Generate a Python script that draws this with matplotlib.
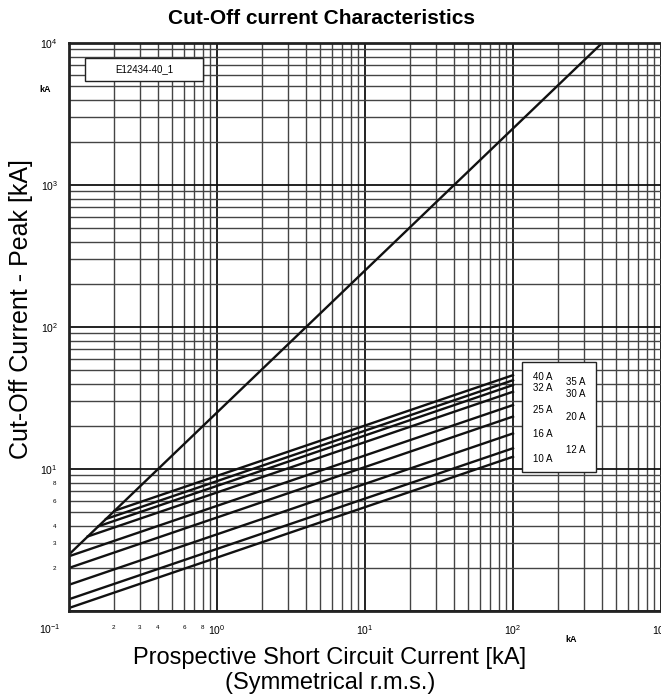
import matplotlib
matplotlib.use('Agg')
import matplotlib.pyplot as plt
from matplotlib.patches import Rectangle

plt.rcParams['font.family'] = ['Liberation Sans', 'DejaVu Sans']
plt.rcParams['mathtext.fontset'] = 'custom'
plt.rcParams['mathtext.rm'] = 'Liberation Sans'

# fuse ratings: each cut-off line goes from a start point to its value at 100 kA
ratings = ['10 A', '12 A', '16 A', '20 A', '25 A', '30 A', '32 A', '35 A', '40 A']
x_start = [0.1, 0.1, 0.1, 0.1, 0.1, 0.134, 0.158, 0.178, 0.203]
y_start = [1.05, 1.21, 1.53, 2.01, 2.43, 3.35, 3.95, 4.45, 5.08]
x_end = 100
y_end = [12.2, 14.0, 17.8, 23.4, 28.2, 35.0, 39.0, 42.2, 45.8]

# unlimited peak current line
peak_x = [0.1, 400]
peak_y = [2.5, 10000]

# rating labels in the box: left column / right column
left_col = ['10 A', '16 A', '25 A', '32 A', '40 A']
label_y = [11.8, 13.6, 17.6, 23.2, 26.1, 33.6, 37.2, 41.0, 44.5]

x_major = [0.1, 1, 10, 100, 1000]
x_major_lab = ['', r'$\mathregular{10^{0}}$', r'$\mathregular{10^{1}}$',
               r'$\mathregular{10^{2}}$', r'$\mathregular{10^{3}}$']
y_major = [1, 10, 100, 1000, 10000]
y_major_lab = ['', r'$\mathregular{10^{1}}$', r'$\mathregular{10^{2}}$',
               r'$\mathregular{10^{3}}$', r'$\mathregular{10^{4}}$']
minor_labeled = [2, 3, 4, 6, 8]

fig = plt.figure(figsize=(6.61, 7.0), dpi=100)
ax = fig.add_axes([69 / 661, 89 / 700, 592 / 661, 568 / 700])
ax.set_xscale('log')
ax.set_yscale('log')
ax.set_xlim(0.1, 1000)
ax.set_ylim(1, 10000)

# full log grid (minor ticks everywhere, only the first decade labelled)
xminor, xminor_lab = [], []
for e in range(-1, 3):
    for m in range(2, 10):
        xminor.append(m * 10.0 ** e)
        xminor_lab.append(str(m) if e == -1 and m in minor_labeled else '')
yminor, yminor_lab = [], []
for e in range(0, 4):
    for m in range(2, 10):
        yminor.append(m * 10.0 ** e)
        yminor_lab.append(str(m) if e == 0 and m in minor_labeled else '')

ax.set_xticks(x_major, x_major_lab)
ax.set_xticks(xminor, xminor_lab, minor=True)
ax.set_yticks(y_major, y_major_lab)
ax.set_yticks(yminor, yminor_lab, minor=True)
ax.tick_params(which='both', length=0)
ax.tick_params(axis='x', which='major', labelsize=7.5, pad=9)
ax.tick_params(axis='x', which='minor', labelsize=4.5, pad=10)
ax.tick_params(axis='y', which='major', labelsize=7.5, pad=8)
ax.tick_params(axis='y', which='minor', labelsize=4.5, pad=9)
ax.grid(which='major', color='#111111', lw=1.3)
ax.grid(which='minor', color='#444444', lw=1.0)
ax.set_axisbelow(True)

for s in ['left', 'bottom', 'top']:
    ax.spines[s].set_linewidth(2)
    ax.spines[s].set_color('#222222')
ax.spines['right'].set_visible(False)

# the 10^-1 label sits left of the axis in the original
ax.annotate(r'$\mathregular{10^{-1}}$', xy=(0.1, 0), xycoords=('data', 'axes fraction'),
            xytext=(-14, -13), textcoords='offset points', ha='center', va='center',
            fontsize=7.5)

ax.plot(peak_x, peak_y, color='#111111', lw=1.7)
for xs, ys, ye in zip(x_start, y_start, y_end):
    ax.plot([xs, x_end], [ys, ye], color='#111111', lw=1.7)

# rating box
ax.add_patch(Rectangle((0.765, 0.2447), 0.125, 0.1937, transform=ax.transAxes,
                       facecolor='white', edgecolor='#222222', lw=1.0, zorder=3))
for r, ly in zip(ratings, label_y):
    lx = 136 if r in left_col else 228
    ax.text(lx, ly, r, fontsize=7, ha='left', va='center', zorder=4)

# id box
ax.add_patch(Rectangle((0.027, 0.933), 0.199, 0.0405, transform=ax.transAxes,
                       facecolor='white', edgecolor='#222222', lw=1.0, zorder=3))
ax.text(0.1265, 0.9535, 'E12434-40_1', transform=ax.transAxes, fontsize=7,
        ha='center', va='center', zorder=4)

fig.text(322 / 661, 1 - 19 / 700, 'Cut-Off current Characteristics',
         ha='center', va='center', fontsize=15, weight='bold')
fig.text(21 / 661, 1 - 309 / 700, 'Cut-Off Current - Peak [kA]', rotation=90,
         ha='center', va='center', fontsize=18)
fig.text(45 / 661, 1 - 90 / 700, 'kA', ha='center', va='center', fontsize=6.5, weight='bold')
fig.text(571 / 661, 1 - 640 / 700, 'kA', ha='center', va='center', fontsize=6.5, weight='bold')
fig.text(330 / 661, 1 - 658 / 700, 'Prospective Short Circuit Current [kA]',
         ha='center', va='center', fontsize=17)
fig.text(330 / 661, 1 - 683 / 700, '(Symmetrical r.m.s.)',
         ha='center', va='center', fontsize=17)

fig.savefig('out.png', dpi=100)
